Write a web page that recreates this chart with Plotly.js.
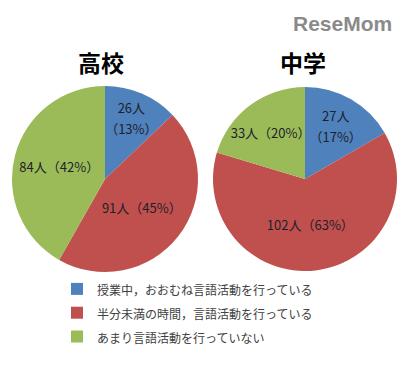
<!DOCTYPE html>
<html>
<head>
<meta charset="utf-8">
<script src="https://cdn.plot.ly/plotly-3.0.1.min.js"></script>
<style>html,body{margin:0;padding:0;background:#fff;}#chart{width:404px;height:365px;}</style>
</head>
<body>
<div id="chart"></div>
<script>
const categories = ["授業中，おおむね言語活動を行っている", "半分未満の時間，言語活動を行っている", "あまり言語活動を行っていない"];
const highSchoolValues = [26, 91, 84];
const highSchoolLabels = ["26人<br>（13%）", "91人（45%）", "84人（42%）"];
const juniorValues = [27, 102, 33];
const juniorLabels = ["27人<br>（17%）", "102人（63%）", "33人（20%）"];
const titles = ["高校", "中学"];
const colors = ["#4F81BD", "#C0504D", "#9BBB59"];

const W = 404, H = 365;
function dom(x0, x1, yTop, yBot) {
  return {x: [x0 / W, x1 / W], y: [1 - yBot / H, 1 - yTop / H]};
}
// render text at a smaller glyph size while keeping a wider line pitch (like the reference)
function styleText(arr, px) {
  return arr.map(s => s.split('<br>').map(l => '<span style="font-size:' + px + 'px">' + l + '</span>').join('<br>'));
}
const legendLabels = styleText(categories, 12);
const font = "'Noto Sans CJK JP', 'Noto Sans', sans-serif";
const common = {
  type: 'pie', sort: false, direction: 'clockwise', rotation: 0,
  marker: {colors: colors, line: {color: '#ffffff', width: 0}},
  textinfo: 'text', textposition: 'inside', insidetextorientation: 'horizontal',
  textfont: {family: font, size: 16, color: '#1f1f2a'},
  hoverinfo: 'label+value+percent'
};
const data = [
  Object.assign({}, common, {labels: legendLabels, values: highSchoolValues, text: styleText(highSchoolLabels, 13),
    domain: dom(12, 198, 86, 272), name: titles[0]}),
  Object.assign({}, common, {labels: legendLabels, values: juniorValues, text: styleText(juniorLabels, 13),
    domain: dom(213, 397, 87, 271), name: titles[1]})
];
const layout = {
  width: W, height: H,
  margin: {l: 0, r: 0, t: 0, b: 0},
  paper_bgcolor: '#ffffff',
  showlegend: true,
  uniformtext: {minsize: 16, mode: 'show'},
  legend: {x: 57 / W, y: 1 - 272 / H, xanchor: 'left', yanchor: 'top',
    font: {family: font, size: 16, color: '#404040'}, traceorder: 'normal', itemwidth: 30},
  annotations: [
    {text: '<b>' + titles[0] + '</b>', x: 101 / W, y: 1 - 62 / H, xref: 'paper', yref: 'paper', showarrow: false,
      xanchor: 'center', yanchor: 'middle', font: {family: font, size: 23, color: '#000'}},
    {text: '<b>' + titles[1] + '</b>', x: 303 / W, y: 1 - 62 / H, xref: 'paper', yref: 'paper', showarrow: false,
      xanchor: 'center', yanchor: 'middle', font: {family: font, size: 23, color: '#000'}},
    {text: '<b>ReseMom</b>', x: 342 / W, y: 1 - 24 / H, xref: 'paper', yref: 'paper', showarrow: false,
      xanchor: 'center', yanchor: 'middle',
      font: {family: "'Liberation Sans', Arial, sans-serif", size: 21, color: '#8a8a8a'}}
  ]
};
Plotly.newPlot('chart', data, layout, {displayModeBar: false, staticPlot: true});
</script>
</body>
</html>
